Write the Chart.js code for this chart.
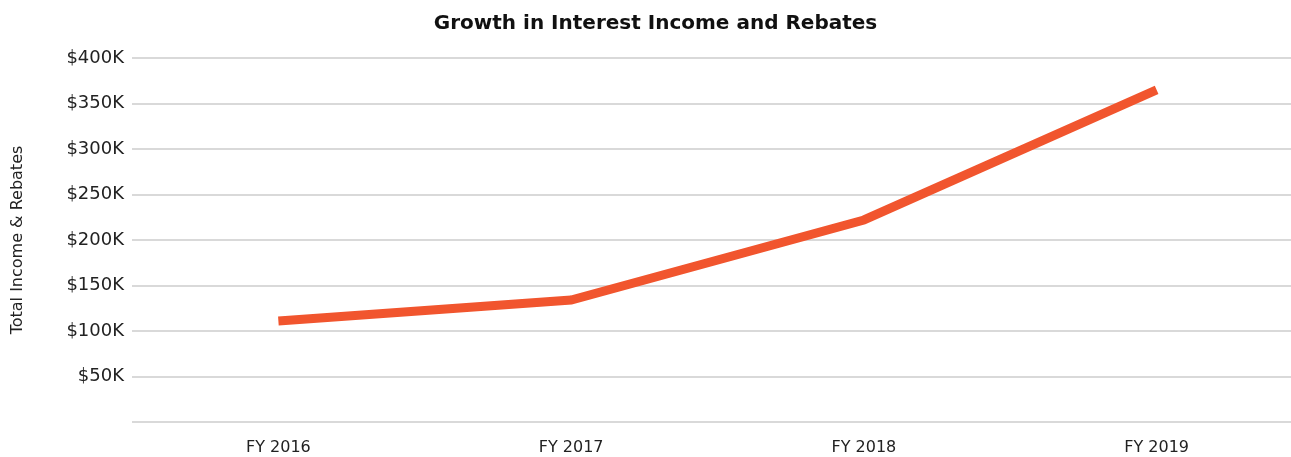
<!DOCTYPE html>
<html>
<head>
<meta charset="utf-8">
<script src="https://cdn.jsdelivr.net/npm/chart.js@4/dist/chart.umd.min.js"></script>
<style>
  html, body { margin: 0; padding: 0; background: #fff; overflow: hidden; }
  #wrap { position: absolute; left: 0; top: 0; width: 1303px; height: 457px; }
</style>
</head>
<body>
<div id="wrap"><canvas id="ingresos"></canvas></div>
<script>
const categorias = ["FY 2016", "FY 2017", "FY 2018", "FY 2019"];
const totalIngresos = [111000, 134000, 222000, 365000];
const tituloGrafico = "Growth in Interest Income and Rebates";
const tituloEjeY = "Total Income & Rebates";

const fuente = "'DejaVu Sans', sans-serif";

window.addEventListener("load", () => {
    const ctx = document.getElementById("ingresos").getContext("2d");
    new Chart(ctx, {
        type: "line",
        data: {
            labels: categorias,
            datasets: [
                {
                    label: tituloEjeY,
                    data: totalIngresos,
                    borderColor: "#f1552e",
                    backgroundColor: "#f1552e",
                    borderWidth: 9,
                    pointRadius: 0,
                    tension: 0,
                    borderCapStyle: "butt"
                }
            ]
        },
        options: {
            responsive: true,
            maintainAspectRatio: false,
            animation: false,
            layout: { padding: { left: 8, right: 0, top: 10, bottom: 0 } },
            plugins: {
                legend: { display: false },
                tooltip: { enabled: false },
                title: {
                    display: true,
                    text: tituloGrafico,
                    color: "#111",
                    font: { family: fuente, size: 20, weight: "bold" },
                    padding: { top: 2, bottom: 22 }
                }
            },
            scales: {
                x: {
                    offset: true,
                    grid: { display: false, drawTicks: false },
                    border: { display: false },
                    ticks: {
                        color: "#222",
                        font: { family: fuente, size: 16 },
                        padding: 16
                    },
                    // alto fijo del eje para que el area llegue a y=422
                    afterFit: escala => { escala.height = 35; }
                },
                y: {
                    min: 0,
                    max: 400000,
                    grid: { color: "#d9d9d9", lineWidth: 2, drawTicks: false },
                    border: { display: false },
                    ticks: {
                        stepSize: 50000,
                        color: "#222",
                        padding: 8,
                        font: { family: fuente, size: 18 },
                        callback: v => v === 0 ? "" : "$" + (v / 1000) + "K"
                    },
                    title: {
                        display: true,
                        text: tituloEjeY,
                        color: "#222",
                        font: { family: fuente, size: 16 },
                        padding: { top: 0, bottom: 28 }
                    },
                    afterFit: escala => { escala.width = 124; }
                }
            }
        }
    });
});
</script>
</body>
</html>
